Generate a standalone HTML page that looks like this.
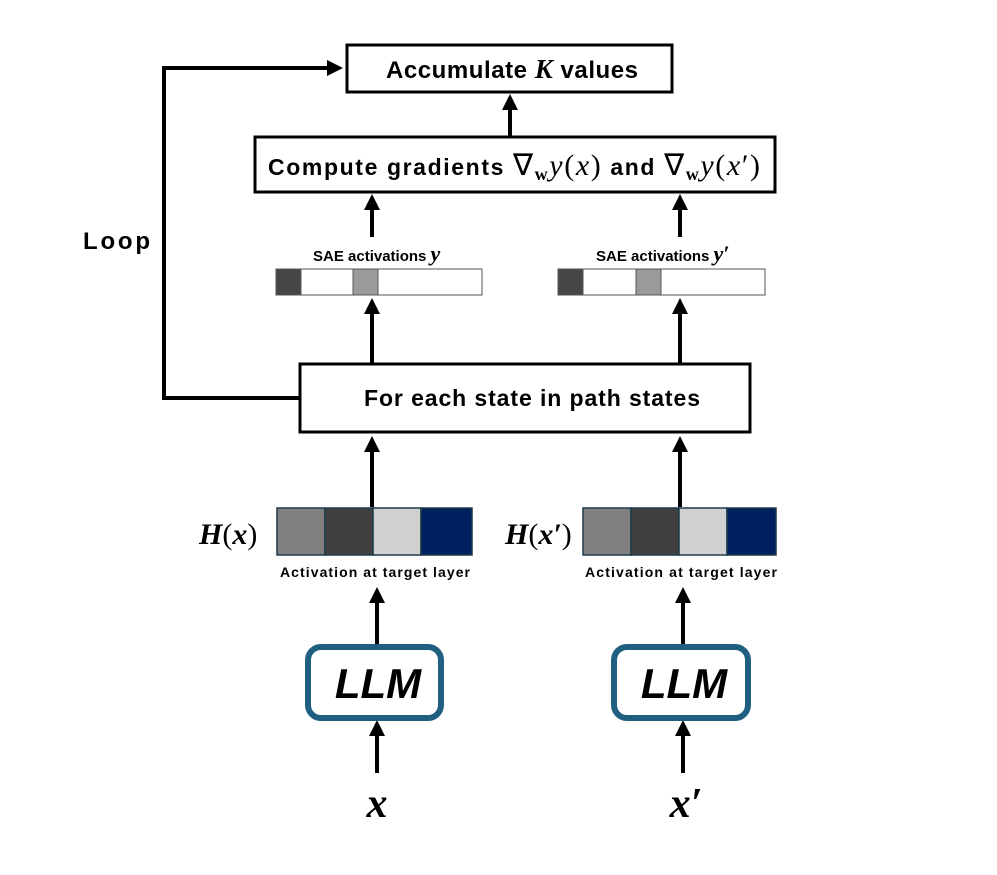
<!DOCTYPE html>
<html><head><meta charset="utf-8"><style>
html,body{margin:0;padding:0;background:#fff}
svg{display:block}
.b{font-family:"Liberation Sans",sans-serif;font-weight:bold;fill:#000}
.m{font-family:"Liberation Serif",serif;fill:#000}
</style></head><body>
<svg width="997" height="875" viewBox="0 0 997 875" xmlns="http://www.w3.org/2000/svg">
<defs>
<marker id="a" markerWidth="4" markerHeight="4" refX="2" refY="2" orient="auto" markerUnits="strokeWidth"><path d="M0,0 L4,2 L0,4 z" fill="#000"/></marker>
</defs>
<g stroke="#000" stroke-width="3" fill="none">
<rect x="347" y="45" width="325" height="47"/>
<rect x="255" y="137" width="520" height="55"/>
<rect x="300" y="364" width="450" height="68"/>
</g>
<text class="b" x="512" y="78" font-size="24" text-anchor="middle" textLength="252">Accumulate <tspan class="m" font-style="italic" font-size="27">K</tspan> values</text>
<text class="b" x="268" y="175" font-size="23" textLength="492">Compute gradients <tspan class="m" font-weight="normal" font-size="30">∇<tspan font-size="18" font-weight="bold" dy="5">w</tspan><tspan dy="-5" font-style="italic">y</tspan>(<tspan font-style="italic">x</tspan>)</tspan> and <tspan class="m" font-weight="normal" font-size="30">∇<tspan font-size="18" font-weight="bold" dy="5">w</tspan><tspan dy="-5" font-style="italic">y</tspan>(<tspan font-style="italic">x</tspan>′)</tspan></text>
<text class="b" x="532" y="406" font-size="23" text-anchor="middle" textLength="336">For each state in path states</text>
<text class="b" x="83" y="249" font-size="24" textLength="67">Loop</text>
<g stroke="#000" stroke-width="4" fill="none">
<polyline points="300,398 164,398 164,68 335,68" marker-end="url(#a)"/>
<line x1="510" y1="137" x2="510" y2="102" marker-end="url(#a)"/>
<line x1="372" y1="237" x2="372" y2="202" marker-end="url(#a)"/>
<line x1="680" y1="237" x2="680" y2="202" marker-end="url(#a)"/>
<line x1="372" y1="364" x2="372" y2="306" marker-end="url(#a)"/>
<line x1="680" y1="364" x2="680" y2="306" marker-end="url(#a)"/>
<line x1="372" y1="507" x2="372" y2="444" marker-end="url(#a)"/>
<line x1="680" y1="507" x2="680" y2="444" marker-end="url(#a)"/>
<line x1="377" y1="645" x2="377" y2="595" marker-end="url(#a)"/>
<line x1="683" y1="645" x2="683" y2="595" marker-end="url(#a)"/>
<line x1="377" y1="773" x2="377" y2="728" marker-end="url(#a)"/>
<line x1="683" y1="773" x2="683" y2="728" marker-end="url(#a)"/>
</g>
<text class="b" x="313" y="261" font-size="15">SAE activations <tspan class="m" font-style="italic" font-size="22">y</tspan></text>
<text class="b" x="596" y="261" font-size="15">SAE activations <tspan class="m" font-style="italic" font-size="22">y′</tspan></text>
<g stroke="#555" stroke-width="1">
<rect x="276" y="269" width="206" height="26" fill="#fff"/>
<rect x="276" y="269" width="25" height="26" fill="#464646"/>
<rect x="353" y="269" width="25" height="26" fill="#9a9a9a"/>
<rect x="558" y="269" width="207" height="26" fill="#fff"/>
<rect x="558" y="269" width="25" height="26" fill="#464646"/>
<rect x="636" y="269" width="25" height="26" fill="#9a9a9a"/>
</g>
<g stroke="#1e3a4a" stroke-width="1.5">
<rect x="277" y="508" width="48" height="47" fill="#808080"/>
<rect x="325" y="508" width="48" height="47" fill="#404040"/>
<rect x="373" y="508" width="48" height="47" fill="#d0d0d0"/>
<rect x="421" y="508" width="51" height="47" fill="#002060"/>
<rect x="583" y="508" width="48" height="47" fill="#808080"/>
<rect x="631" y="508" width="48" height="47" fill="#404040"/>
<rect x="679" y="508" width="48" height="47" fill="#d0d0d0"/>
<rect x="727" y="508" width="49" height="47" fill="#002060"/>
</g>
<text class="m" x="199" y="544" font-size="30" font-weight="bold" font-style="italic">H<tspan font-style="normal" font-weight="normal">(</tspan>x<tspan font-style="normal" font-weight="normal">)</tspan></text>
<text class="m" x="505" y="544" font-size="30" font-weight="bold" font-style="italic">H<tspan font-style="normal" font-weight="normal">(</tspan>x′<tspan font-style="normal" font-weight="normal">)</tspan></text>
<text class="b" x="375" y="577" font-size="14" text-anchor="middle" textLength="190">Activation at target layer</text>
<text class="b" x="681" y="577" font-size="14" text-anchor="middle" textLength="192">Activation at target layer</text>
<g stroke="#1f5f80" stroke-width="6" fill="#fff">
<rect x="308" y="647" width="133" height="71" rx="13"/>
<rect x="614" y="647" width="134" height="71" rx="13"/>
</g>
<text class="b" x="378" y="698" font-size="42" font-style="italic" text-anchor="middle">LLM</text>
<text class="b" x="684" y="698" font-size="42" font-style="italic" text-anchor="middle">LLM</text>
<text class="m" x="377" y="817" font-size="42" font-weight="bold" font-style="italic" text-anchor="middle">x</text>
<text class="m" x="686" y="817" font-size="42" font-weight="bold" font-style="italic" text-anchor="middle">x′</text>
</svg>
</body></html>
